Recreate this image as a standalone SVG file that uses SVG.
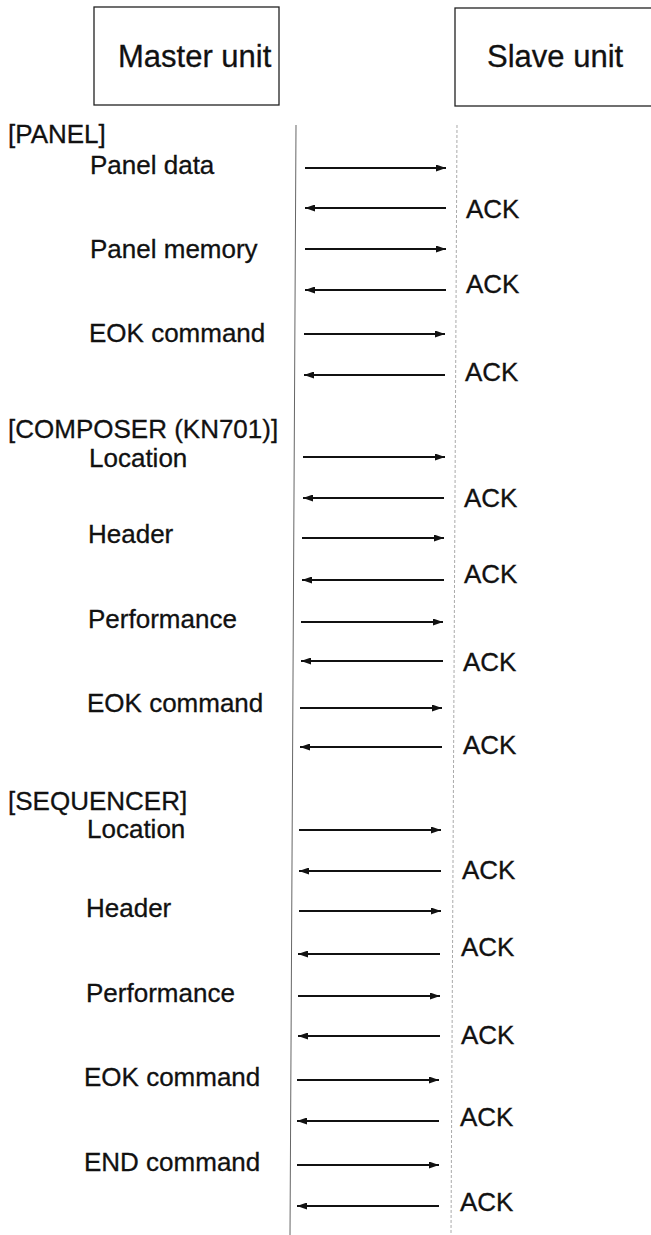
<svg xmlns="http://www.w3.org/2000/svg" width="651" height="1235" viewBox="0 0 651 1235">
<style>
.t{font-family:"Liberation Sans",Arial,sans-serif;font-size:26px;fill:#111;stroke:#111;stroke-width:0.3}
.h{font-family:"Liberation Sans",Arial,sans-serif;font-size:31px;fill:#111;stroke:#111;stroke-width:0.3}
.box{fill:#fff;stroke:#222;stroke-width:1.3}
.msg{stroke:#111;stroke-width:1.8;fill:none;marker-end:url(#ah)}
.ml{stroke:#666;stroke-width:1;fill:none}
.sl{stroke:#aaa;stroke-width:1;fill:none;stroke-dasharray:3 2}
</style>
<defs>
<marker id="ah" markerUnits="userSpaceOnUse" markerWidth="10" markerHeight="7" refX="10" refY="3.5" orient="auto">
<path d="M0,0 L10,3.5 L0,7 z" fill="#111"/>
</marker>
</defs>
<rect width="651" height="1235" fill="#fff"/>
<g id="master"><rect class="box" x="94" y="7" width="185" height="98"/><text class="h" x="118" y="67">Master unit</text></g>
<g id="slave"><rect class="box" x="455" y="8" width="200" height="98"/><text class="h" x="487" y="67">Slave unit</text></g>
<g id="lifelines">
<line class="ml" x1="296" y1="125" x2="290" y2="1235"/>
<line class="sl" x1="457" y1="125" x2="451" y2="1235"/>
</g>
<g id="labels">
<text class="t" x="8" y="143">[PANEL]</text>
<text class="t" x="90" y="174">Panel data</text>
<text class="t" x="90" y="258">Panel memory</text>
<text class="t" x="89" y="342">EOK command</text>
<text class="t" x="8" y="438">[COMPOSER (KN701)]</text>
<text class="t" x="89" y="467">Location</text>
<text class="t" x="88" y="543">Header</text>
<text class="t" x="88" y="628">Performance</text>
<text class="t" x="87" y="712">EOK command</text>
<text class="t" x="8" y="810">[SEQUENCER]</text>
<text class="t" x="87" y="838">Location</text>
<text class="t" x="86" y="917">Header</text>
<text class="t" x="86" y="1002">Performance</text>
<text class="t" x="84" y="1086">EOK command</text>
<text class="t" x="84" y="1171">END command</text>
</g>
<g id="acks">
<text class="t" x="466" y="218">ACK</text>
<text class="t" x="466" y="293">ACK</text>
<text class="t" x="465" y="381">ACK</text>
<text class="t" x="464" y="507">ACK</text>
<text class="t" x="464" y="583">ACK</text>
<text class="t" x="463" y="671">ACK</text>
<text class="t" x="463" y="754">ACK</text>
<text class="t" x="462" y="879">ACK</text>
<text class="t" x="461" y="956">ACK</text>
<text class="t" x="461" y="1044">ACK</text>
<text class="t" x="460" y="1126">ACK</text>
<text class="t" x="460" y="1211">ACK</text>
</g>
<g id="connectors">
<line class="msg" x1="305" y1="168" x2="446" y2="168"/>
<line class="msg" x1="446" y1="208" x2="305" y2="208"/>
<line class="msg" x1="305" y1="249" x2="446" y2="249"/>
<line class="msg" x1="446" y1="290" x2="305" y2="290"/>
<line class="msg" x1="304" y1="334" x2="445" y2="334"/>
<line class="msg" x1="445" y1="375" x2="304" y2="375"/>
<line class="msg" x1="303" y1="457" x2="445" y2="457"/>
<line class="msg" x1="444" y1="498" x2="303" y2="498"/>
<line class="msg" x1="302" y1="538" x2="444" y2="538"/>
<line class="msg" x1="444" y1="580" x2="302" y2="580"/>
<line class="msg" x1="301" y1="622" x2="443" y2="622"/>
<line class="msg" x1="443" y1="661" x2="301" y2="661"/>
<line class="msg" x1="300" y1="708" x2="442" y2="708"/>
<line class="msg" x1="442" y1="747" x2="300" y2="747"/>
<line class="msg" x1="299" y1="830" x2="441" y2="830"/>
<line class="msg" x1="441" y1="871" x2="299" y2="871"/>
<line class="msg" x1="299" y1="911" x2="441" y2="911"/>
<line class="msg" x1="440" y1="954" x2="298" y2="954"/>
<line class="msg" x1="298" y1="996" x2="440" y2="996"/>
<line class="msg" x1="440" y1="1036" x2="298" y2="1036"/>
<line class="msg" x1="297" y1="1080" x2="439" y2="1080"/>
<line class="msg" x1="439" y1="1121" x2="297" y2="1121"/>
<line class="msg" x1="297" y1="1165" x2="439" y2="1165"/>
<line class="msg" x1="439" y1="1206" x2="297" y2="1206"/>
</g>
</svg>
